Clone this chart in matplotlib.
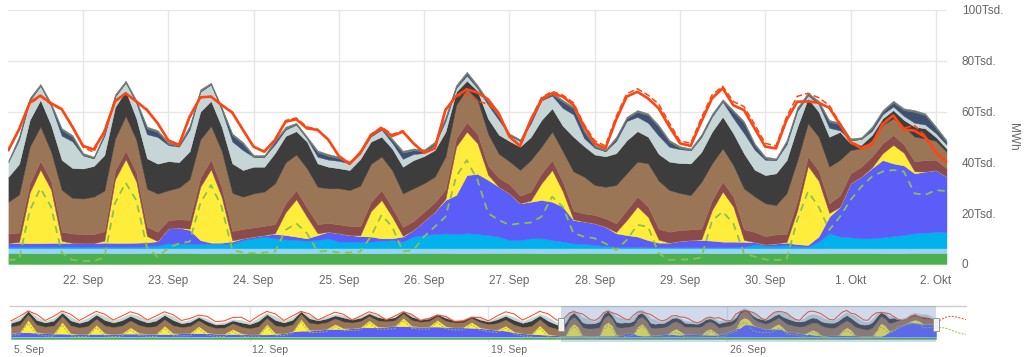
import matplotlib
matplotlib.use("Agg")
import matplotlib.pyplot as plt
import matplotlib.patches as mpatches
import matplotlib.dates as mdates
import numpy as np
import pandas as pd

plt.rcParams['font.family'] = ['Liberation Sans', 'DejaVu Sans']

# main chart, Tsd. MWh, samples every 3 h from 21.09. 03:00 to 02.10. 03:00
# (one line per day)
bio = [4.3, 4.3, 4.2, 4.2, 4.2, 4.3, 4.3,
       4.3, 4.3, 4.3, 4.2, 4.2, 4.2, 4.3, 4.3,
       4.3, 4.3, 4.3, 4.2, 4.2, 4.2, 4.3, 4.3,
       4.3, 4.3, 4.3, 4.2, 4.2, 4.2, 4.3, 4.3,
       4.3, 4.3, 4.3, 4.2, 4.2, 4.2, 4.3, 4.3,
       4.3, 4.3, 4.3, 4.2, 4.2, 4.2, 4.3, 4.3,
       4.3, 4.3, 4.3, 4.2, 4.2, 4.2, 4.3, 4.3,
       4.3, 4.3, 4.3, 4.2, 4.2, 4.2, 4.3, 4.3,
       4.3, 4.3, 4.3, 4.2, 4.2, 4.2, 4.3, 4.3,
       4.3, 4.3, 4.3, 4.2, 4.2, 4.2, 4.3, 4.3,
       4.3, 4.3, 4.3, 4.2, 4.2, 4.2, 4.3, 4.3,
       4.3, 4.3]
hydro = [1.9, 1.9, 2.0, 2.0, 2.0, 1.9, 1.9,
         1.9, 1.9, 1.9, 2.0, 2.0, 2.0, 1.9, 1.9,
         1.9, 1.9, 1.9, 2.0, 2.0, 2.0, 1.9, 1.9,
         1.9, 1.9, 1.9, 2.0, 2.0, 2.0, 1.9, 1.9,
         1.9, 1.9, 1.9, 2.0, 2.0, 2.0, 1.9, 1.9,
         1.9, 1.9, 1.9, 2.0, 2.0, 2.0, 1.9, 1.9,
         1.9, 1.9, 1.9, 2.0, 2.0, 2.0, 1.9, 1.9,
         1.9, 1.9, 1.9, 2.0, 2.0, 2.0, 1.9, 1.9,
         1.9, 1.9, 1.9, 2.0, 2.0, 2.0, 1.9, 1.9,
         1.9, 1.9, 1.9, 2.0, 2.0, 2.0, 1.9, 1.9,
         1.9, 1.9, 1.9, 2.0, 2.0, 2.0, 1.9, 1.9,
         1.9, 1.9]
wind_off = [.6, .6, .6, .6, .6, .7, .7,
            .6, .6, .6, .6, .6, .6, .8, 1.0,
            1.9, 1.9, 1.7, 1.7, 1.7, 1.7, 1.9, 3.2,
            3.9, 4.6, 3.9, 3.5, 3.2, 3.0, 3.2, 3.9,
            2.6, 2.6, 2.6, 2.6, 2.9, 3.2, 2.6, 4.6,
            5.2, 5.6, 5.9, 5.6, 5.9, 5.6, 5.2, 4.6,
            3.2, 3.2, 3.9, 3.9, 3.2, 2.6, 1.9, 1.8,
            1.3, .9, .6, .6, .6, .4, .4, .4,
            .4, .4, .4, .4, .4, .4, .5, 1.5,
            1.0, 1.0, 1.2, .8, .6, 2.6, 5.9, 4.6,
            4.3, 3.9, 3.9, 4.3, 4.8, 5.2, 5.9, 6.1,
            6.5, 6.3]
wind_on = [1.5, 1.5, 1.4, 1.4, 1.5, 1.4, 1.4,
           1.4, 1.4, 1.6, 1.5, 1.5, 1.6, 1.5, 1.8,
           5.9, 6.2, 5.5, 1.5, .5, .5, .7, .7,
           .7, .6, 1.7, 1.7, 1.4, .9, 2.0, 2.6,
           3.3, 2.6, 2.2, 2.0, 1.0, .7, 2.0, 2.6,
           5.6, 8.8, 13.1, 15.4, 22.9, 23.7, 21.7, 19.6,
           18.4, 14.5, 14.4, 15.1, 15.1, 13.8, 9.2, 8.7,
           8.5, 7.6, 5.3, 4.6, 4.0, 2.8, 1.8, 1.8,
           2.5, 2.8, 2.8, 2.6, 2.2, 2.2, 2.0, .9,
           .5, .9, 1.0, .8, .7, 2.0, 6.5, 11.7,
           21.3, 24.3, 27.6, 30.4, 28.6, 27.4, 23.6, 24.1,
           24.3, 21.9]
solar = [0, .4, 20, 29, 21, .8, 0,
         0, 0, .8, 25, 33, 24, 2.5, 0,
         0, 0, .5, 21, 28.9, 18, .5, 0,
         0, 0, .3, 9, 14.7, 8.5, .7, 0,
         0, 0, .3, 10, 15.1, 8.5, .3, 0,
         0, 0, .5, 19, 17.1, 12, 2, 0,
         0, 0, .5, 6.6, 12.5, 6, .3, 0,
         0, 0, .5, 5.9, 11.8, 9.2, 1.2, 0,
         0, 0, .3, 12, 19.7, 13.8, .8, 0,
         0, 0, .3, 13.3, 31.1, 22, 1.5, 0,
         0, 0, .3, 2.7, 7.3, 5, .8, 0,
         0, 0]
nuclear = [3.7, 3.7, 3.5, 3.4, 3.4, 3.6, 3.7,
           3.6, 3.6, 3.7, 3.5, 3.3, 3.5, 3.6, 3.7,
           3.3, 3.3, 3.5, 3.6, 3.9, 3.7, 3.7, 3.7,
           3.6, 3.6, 3.6, 3.6, 3.6, 3.6, 3.6, 3.5,
           3.5, 3.6, 3.5, 3.6, 3.9, 3.6, 3.5, 3.5,
           3.6, 3.7, 3.6, 3.3, 3.7, 3.7, 3.6, 3.5,
           3.6, 3.0, 3.5, 3.9, 3.9, 3.8, 3.3, 3.2,
           3.3, 3.3, 3.4, 4.0, 3.9, 4.0, 4.2, 4.3,
           4.3, 4.2, 4.2, 4.0, 3.9, 3.9, 4.2, 4.0,
           3.3, 3.5, 3.2, 3.9, 3.7, 4.0, 3.8, 4.5,
           3.9, 3.9, 4.3, 3.9, 3.9, 3.2, 3.9, 4.5,
           4.0, 3.3]
lignite = [12.5, 15, 14.5, 13.5, 11.5, 16.5, 14,
           14, 14.7, 16, 12.5, 13.7, 12.9, 15, 15,
           11.7, 12.5, 16, 15, 13.1, 14.5, 15, 12.7,
           13.4, 13.5, 16, 16, 14, 15.5, 14.7, 13.6,
           14.2, 14.1, 16, 15, 13.2, 14.7, 13.2, 12.9,
           11.2, 10.1, 13, 13.1, 13, 13.5, 12.5, 9.5,
           9, 10.1, 12.4, 10.5, 11.2, 12, 15.5, 14.5,
           11.8, 12.4, 15.1, 14.4, 13.8, 17, 19, 16.4,
           14.5, 13.5, 18.4, 14.4, 13.1, 12.4, 16, 14,
           12.9, 11.6, 16, 15.7, 13.1, 13.3, 14.4, 14,
           9.2, 7.2, 6.5, 7.2, 6.5, 7.1, 9.7, 8.6,
           7.5, 6.5]
hard_coal = [9.9, 12, 10.5, 10.5, 10.5, 11.8, 11.8,
             11.8, 12.1, 14, 12.5, 9.9, 8.5, 12, 11.8,
             11.5, 10, 11, 11, 9.9, 9.5, 11.6, 10.5,
             10.5, 9.8, 12, 10.4, 9.2, 10.5, 9.2, 8.5,
             7.9, 7.9, 10.5, 8.8, 7.8, 8.5, 10.5, 11.1,
             10.7, 10.5, 9.8, 5.2, 3.4, 3.5, 6, 7.5,
             8, 9.2, 9.1, 10.5, 9.2, 10, 13.7, 12,
             12, 12, 12.5, 13, 12, 10.5, 10.5, 11.2,
             11.8, 12.5, 11.8, 12.5, 12.5, 12.5, 13.8, 10.5,
             11.1, 12.5, 13, 13.2, 9.8, 9.9, 11.8, 11,
             2.6, 1.4, 2.0, 2.6, 3.3, 2.6, 4.0, 3.9,
             1.5, 1.3]
gas = [5.8, 9.5, 7.6, 5.6, 7.5, 9.5, 10.5,
       5.1, 3.0, 7.5, 4.0, 3.3, 6.0, 9.5, 10.5,
       6.3, 6.1, 8.5, 7.8, 6.5, 6.6, 8.6, 7.8,
       3.9, 3.9, 3.4, 2.5, 2.6, 1.2, 2.6, 2.8,
       2.9, 2.6, 2.4, 2.0, 2.8, 2.3, 3.1, 2.4,
       1.2, 2.0, 4.2, 1.5, 2.0, 1.0, 5.4, 5.8,
       2.3, 2.2, 5.3, 7.7, 5.0, 7.0, 8.8, 3.2,
       2.6, 2.0, 4.8, 7.6, 5.6, 5.5, 7.2, 5.8,
       5.5, 5.2, 5.8, 5.9, 5.9, 6.0, 8.0, 7.9,
       6.0, 5.2, 6.2, 6.3, 1.2, 3.0, 3.5, .6,
       1.2, 2.3, 1.6, 1.6, 1.4, 1.6, 1.5, 1.5,
       1.5, 1.5]
pumped = [0, .8, .5, 0, .5, 2.3, 1.8,
          .3, 0, .5, .3, 0, .5, 2.3, 2.0,
          .5, .3, 1.0, .3, 0, .5, 2.5, 2.5,
          0, 0, 1.0, .5, 0, .2, 1.8, 1.5,
          1.0, 0, .5, .5, .5, 1.0, 2.5, 1.5,
          .7, .6, 1.0, .5, .8, .6, 1.0, 1.3,
          0, 0, 1.0, .8, .5, 2.5, 2.3, 2.5,
          .5, 0, 1.0, 1.0, 2.0, 3.0, 3.5, 2.0,
          .5, 0, .5, .5, .3, 2.5, 4.0, 1.8,
          .6, 0, 1.0, .8, .4, .6, 2.4, 2.4,
          .1, 0, 1.0, 1.0, 1.6, 2.3, 4.3, 3.7,
          2.0, 1.1]
other = [.7, .7, .7, .7, .7, .7, .7,
         .7, .7, .7, .7, .7, .7, .7, .7,
         .7, .7, .7, .7, .7, .7, .7, .7,
         .7, .7, .7, .7, .7, .7, .7, .7,
         .7, .7, .7, .7, .7, .7, .7, .7,
         .7, .7, .7, .7, .7, .7, .7, .7,
         .7, .7, .7, .7, .7, .7, .7, .7,
         .7, .7, .7, .7, .7, .7, .7, .7,
         .7, .7, .7, .7, .7, .7, .7, .7,
         .7, .7, .7, .7, .7, .7, .7, .7,
         .7, .7, .7, .7, .7, .7, .7, .7,
         .7, .7]
load = [44.9, 53, 63.5, 66.3, 63.3, 61, 54,
        46.5, 45.1, 52, 64, 67.2, 64, 60.6, 55.4,
        48.7, 46.9, 58, 65.6, 65.9, 62.6, 59.6, 52.8,
        46.2, 44.2, 48.8, 56, 57, 53.4, 52.8, 49,
        42.5, 39.4, 43.6, 50.8, 53.4, 50.4, 52.1, 47.5,
        43.8, 45.5, 60.6, 66.1, 68.8, 67.5, 64.8, 59.3,
        50.1, 46.5, 56.7, 64.6, 67.2, 65.9, 62.6, 54.1,
        47.5, 45.5, 56.7, 65.9, 67.8, 65.2, 61.3, 54.1,
        47.5, 46.5, 56, 65.2, 69.2, 62.5, 60.6, 53.4,
        46.2, 45.5, 56.7, 63.9, 64, 63.5, 61.5, 55,
        48, 45.5, 47, 55, 58.5, 53, 52.5, 50,
        44, 40]
load_fc = [44.5, 53, 63, 66, 62.8, 60.8, 54.5,
           46, 44, 52.5, 64.5, 67, 64, 61, 55.5,
           48.5, 46.5, 57.5, 65.5, 66, 62.8, 59.8, 53,
           46, 44.5, 49, 56.5, 57.5, 54, 53, 49,
           42.5, 39.8, 43.5, 51, 54, 51, 52.5, 47.5,
           44, 45.5, 61, 66, 67, 64, 63, 59,
           50.5, 46.5, 57, 65.5, 68, 66.5, 63.5, 55,
           48.5, 46.5, 58, 67, 69, 66.5, 63, 55.5,
           48.5, 47.5, 57.5, 66.5, 70, 64, 62, 55,
           47.5, 46.5, 58, 66, 67.2, 65.5, 62.5, 55.5,
           48.5, 46, 47.5, 55.5, 58.5, 53.5, 54.5, 50.5,
           44, 40.5]
renew_fc = [1.6, 1.8, 21, 29.8, 22.5, 4.5, 1.6,
            1.2, 1.2, 2.5, 24, 32, 25, 6.5, 2.8,
            6.3, 8.1, 8.8, 23.9, 31.1, 22.6, 5.5, 4.5,
            4.2, 4.5, 4.9, 13.4, 16, 12.1, 4.9, 5.2,
            4.5, 4.5, 4.9, 10.8, 19.3, 14.7, 4.9, 5.5,
            10.8, 14.7, 18.6, 34.4, 40.9, 33.1, 20, 17.3,
            15.4, 16, 16.3, 18.6, 26.5, 22.6, 12.1, 10.8,
            10.1, 8.1, 5.5, 9.4, 15.4, 14.7, 4.2, 1.6,
            1.8, 1.8, 2.5, 17, 20.6, 16, 4.2, 2.9,
            1.8, 1.6, 1.8, 17.3, 28.5, 22.6, 13.4, 18.6,
            25.2, 30.4, 34.4, 36.4, 37, 36.4, 27.8, 27.2,
            29.1, 28.7]
# forecast continuation (navigator only), 02.10. 06:00 .. 03.10. 00:00
load_fc_next = [46, 52, 55, 55, 53, 50, 47]
renew_fc_next = [28, 27, 24, 20, 16, 13, 12]

# navigator history, every 6 h from 05.09. 00:00 to 21.09. 00:00
nav_wind = [9, 10, 10, 9, 8, 7, 7, 6, 6, 6, 6, 6, 6, 7, 7, 7,
            7, 6, 6, 6, 8, 8, 8, 8, 7, 6, 6, 6, 5, 5, 5, 6,
            8, 12, 14, 14, 16, 18, 18, 18, 20, 22, 22, 22, 24, 25, 25, 24,
            24, 24, 24, 23, 22, 22, 21, 20, 18, 16, 14, 10, 8, 6, 5, 4, 3]
nav_solar = [0, .5, 30, 2, 0, .5, 28, 2, 0, .5, 22, 2, 0, .5, 15, 2,
             0, .5, 20, 2, 0, .5, 17, 2, 0, .5, 12, 2, 0, .5, 25, 2,
             0, .5, 28, 2, 0, .5, 12, 2, 0, .5, 17, 2, 0, .5, 20, 2,
             0, .5, 16, 2, 0, .5, 14, 2, 0, .5, 12, 2, 0, .5, 22, 2, 0]
nav_brown = [15, 18, 14, 18, 16, 19, 15, 19, 16, 19, 15, 19, 17, 19, 17, 19,
             16, 19, 16, 19, 15, 17, 14, 17, 14, 15, 14, 16, 15, 19, 15, 19,
             16, 17, 13, 17, 15, 16, 14, 16, 14, 15, 11, 15, 13, 14, 11, 14,
             12, 13, 10, 13, 12, 12, 10, 13, 12, 16, 15, 17, 15, 19, 15, 19, 16]
nav_dark = [9, 11, 8, 11, 10, 12, 8, 12, 11, 13, 10, 13, 11, 13, 11, 13,
            11, 13, 10, 13, 9, 10, 8, 10, 8, 9, 7, 10, 10, 13, 9, 13,
            10, 11, 6, 11, 8, 9, 7, 10, 7, 8, 6, 8, 6, 7, 5, 8,
            5, 6, 4, 7, 5, 5, 4, 6, 6, 9, 9, 11, 10, 13, 9, 13, 10]
nav_light = [4, 6, 3, 8, 4, 6, 3, 8, 4, 7, 4, 9, 5, 7, 5, 9,
             5, 7, 4, 9, 4, 5, 3, 6, 3, 4, 3, 6, 4, 7, 4, 9,
             4, 6, 2, 7, 3, 5, 3, 6, 3, 4, 2, 5, 2, 3, 2, 5,
             2, 3, 2, 4, 2, 2, 2, 4, 2, 5, 4, 7, 4, 7, 4, 9, 5]
nav_load = [44, 55, 68, 60, 45, 55, 68, 60, 45, 56, 67, 60, 46, 56, 66, 60,
            46, 56, 66, 59, 45, 50, 58, 55, 42, 44, 52, 53, 42, 56, 67, 61,
            45, 56, 67, 61, 46, 56, 65, 60, 46, 56, 66, 60, 46, 56, 66, 60,
            45, 50, 58, 55, 42, 44, 52, 53, 44, 56, 66, 61, 46, 56, 67, 61, 46]
nav_renew = [9, 11, 38, 12, 8, 7, 34, 8, 6, 6, 28, 8, 6, 7, 22, 9,
             7, 6, 26, 8, 8, 8, 25, 10, 7, 6, 18, 8, 5, 5, 30, 8,
             9, 13, 42, 16, 16, 18, 30, 20, 21, 22, 39, 24, 24, 25, 45, 26,
             24, 24, 40, 25, 22, 22, 35, 22, 18, 16, 26, 12, 8, 6, 27, 6, 2]
NAV_BIO, NAV_HYDRO = 4.3, 1.9

colors = ['#4caf50', '#97d3f2', '#00b2ec', '#5a5df8', '#ffec3b', '#8c4b4b',
          '#9a7656', '#3d3d3d', '#c6d6d6', '#3f5073', '#6e7b6e']
RED = '#ff4612'
GREEN_DASH = '#8cc152'

W, H = 1024, 357
fig = plt.figure(figsize=(W / 100, H / 100), dpi=100)


def px_axes(x0, x1, y0, y1):
    return fig.add_axes([x0 / W, 1 - y1 / H, (x1 - x0) / W, (y1 - y0) / H])


times = pd.date_range("2022-09-21 03:00", periods=len(load), freq="3h")

# ---------------- main chart ----------------
ax = px_axes(8.4, 946.5, 10, 264)
layers = [bio, hydro, wind_off, wind_on, solar, nuclear, lignite, hard_coal, gas, pumped, other]
lower = np.zeros(len(times))
for vals, col in zip(layers, colors):
    upper = lower + np.asarray(vals, dtype=float)
    ax.fill_between(times, lower, upper, color=col, ec=col, lw=0.3, zorder=2)
    lower = upper

ax.plot(times, renew_fc, color=GREEN_DASH, lw=1.3, ls=(0, (4, 3)), zorder=4)
ax.plot(times, load_fc, color=RED, lw=1.1, ls=(0, (4, 2)), zorder=4)
ax.plot(times, load, color=RED, lw=1.9, zorder=5)

ax.set_xlim(times[0], times[-1])
ax.set_ylim(0, 100)
days = pd.date_range("2022-09-22", "2022-10-02", freq="D")
ax.set_xticks(days)
ax.set_xticklabels([f"{d.day}. {'Sep' if d.month == 9 else 'Okt'}" for d in days])
ax.set_yticks([0, 20, 40, 60, 80, 100])
ax.set_yticklabels(['0', '20Tsd.', '40Tsd.', '60Tsd.', '80Tsd.', '100Tsd.'])
ax.yaxis.tick_right()
ax.tick_params(axis='y', length=0, pad=11, labelsize=8.5, labelcolor='#666666')
ax.tick_params(axis='x', length=0, pad=8, labelsize=8.5, labelcolor='#666666')
ax.grid(True, color='#e6e6e6', lw=1)
ax.set_axisbelow(True)
for s in ax.spines.values():
    s.set_visible(False)
fig.text(1013 / W, 1 - 137 / H, 'MWh', rotation=270, ha='center', va='center',
         fontsize=8.5, color='#666666')

# ---------------- navigator ----------------
nav = px_axes(10, 966, 306, 342)
t_early = pd.date_range("2022-09-05", periods=len(nav_load), freq="6h")
nt = t_early.append(times)
ne = len(t_early)
n_layers = [
    (np.concatenate([[NAV_BIO] * ne, bio]), colors[0]),
    (np.concatenate([[NAV_HYDRO] * ne, hydro]), colors[1]),
    (np.concatenate([nav_wind, np.add(wind_off, wind_on)]), colors[3]),
    (np.concatenate([nav_solar, solar]), colors[4]),
    (np.concatenate([nav_brown, np.add(nuclear, lignite)]), colors[6]),
    (np.concatenate([nav_dark, hard_coal]), colors[7]),
    (np.concatenate([nav_light, np.add(np.add(gas, pumped), other)]), colors[8]),
]
lower = np.zeros(len(nt))
for vals, col in n_layers:
    upper = lower + vals
    nav.fill_between(nt, lower, upper, color=col, ec=col, lw=0.2, zorder=2)
    lower = upper

t_fc = pd.date_range("2022-10-02 06:00", periods=len(load_fc_next), freq="3h")
nav.plot(nt, np.concatenate([nav_load, load]), color=RED, lw=0.7, zorder=4)
nav.plot(t_fc.insert(0, times[-1]), [load_fc[-1]] + load_fc_next, color=RED, lw=0.7,
         ls=(0, (2, 1.5)), zorder=4)
nav.plot(nt.append(t_fc), np.concatenate([nav_renew, renew_fc, renew_fc_next]),
         color=GREEN_DASH, lw=0.7, ls=(0, (2, 1.5)), zorder=4)

nav.set_xlim(pd.Timestamp("2022-09-04 23:18"), pd.Timestamp("2022-10-03 00:00"))
nav.set_ylim(-7, 80)
nav.set_xticks([])
nav.set_yticks([])
for s in ['left', 'right', 'bottom']:
    nav.spines[s].set_visible(False)
nav.spines['top'].set_color('#cccccc')
nav.spines['top'].set_linewidth(1)

nav_days = pd.date_range("2022-09-05", "2022-09-26", freq="7D")
for d in nav_days[1:]:
    nav.axvline(d, color='#e6e6e6', lw=1, zorder=1)
for d in nav_days:
    nav.text(mdates.date2num(d) + 0.08, -0.22, f"{d.day}. Sep", transform=nav.get_xaxis_transform(),
             ha='left', va='center', fontsize=7.5, color='#666666')

nav.axvspan(times[0], times[-1], color=(102 / 255, 133 / 255, 194 / 255), alpha=0.3, lw=0, zorder=6)
fig.canvas.draw()
for t in (times[0], times[-1]):
    xd = nav.transData.transform((mdates.date2num(t), 0))[0]
    nav.add_artist(mpatches.Rectangle(((xd - 3) / W, 1 - (324 + 6.5) / H), 6 / W, 13 / H,
                                      transform=fig.transFigure, fc='#f2f2f2', ec='#999999',
                                      lw=0.7, zorder=7, clip_on=False))

fig.savefig("out.png", dpi=100)
